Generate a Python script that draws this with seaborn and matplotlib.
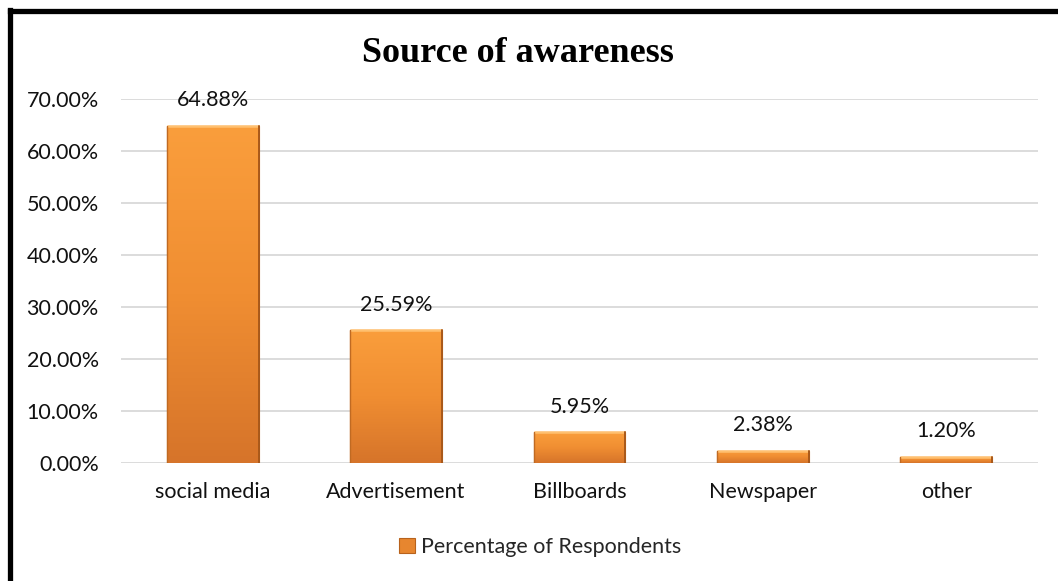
import numpy as np
import pandas as pd
import matplotlib
matplotlib.use("Agg")
import matplotlib.pyplot as plt
from matplotlib.colors import LinearSegmentedColormap
from matplotlib.patches import Patch
from matplotlib.lines import Line2D
import seaborn as sns

categories = ["social media", "Advertisement", "Billboards", "Newspaper", "other"]
percentages = [64.88, 25.59, 5.95, 2.38, 1.20]
series_name = "Percentage of Respondents"
title = "Source of awareness"
y_ticks = [0, 10, 20, 30, 40, 50, 60, 70]

sns.set_theme(style="white")
plt.rcParams["font.family"] = ["Lato", "DejaVu Sans"]

FS = 15.5

df = pd.DataFrame({"category": categories, "value": percentages})

fig = plt.figure(figsize=(10.58, 5.81), dpi=100)
ax = fig.add_axes([121 / 1058, 1 - 463 / 581, (1038 - 121) / 1058, (463 - 99) / 581])

sns.barplot(data=df, x="category", y="value", color="#F29A38", width=0.5,
            ax=ax, zorder=3, edgecolor="#B8621C", linewidth=0.8)

ax.set_ylim(0, 70)
ax.set_xlim(-0.5, len(categories) - 0.5)
ax.set_yticks(y_ticks)
ax.set_yticklabels([f"{t:.2f}%" for t in y_ticks], fontsize=FS, color="#111111")
ax.tick_params(axis="y", length=0, pad=16)
ax.tick_params(axis="x", length=0, pad=14, labelsize=FS, labelcolor="#111111")
ax.set_xlabel("")
ax.set_ylabel("")
ax.grid(axis="y", color="#D9D9D9", linewidth=1.3, zorder=0)
for s in ax.spines.values():
    s.set_visible(False)

# vertical orange gradient inside each bar
grad_cmap = LinearSegmentedColormap.from_list("bar", ["#D6742A", "#F08E32", "#FA9E3C"])
gradient = np.linspace(0, 1, 256).reshape(-1, 1)
for patch in ax.patches:
    x0, y0 = patch.get_x(), patch.get_y()
    w, h = patch.get_width(), patch.get_height()
    im = ax.imshow(gradient, cmap=grad_cmap, origin="lower", aspect="auto",
                   extent=(x0, x0 + w, y0, y0 + h), zorder=3.5)
    im.set_clip_path(patch)
    # bevel highlight on top edge and shade on the sides
    ax.add_line(Line2D([x0, x0 + w], [y0 + h, y0 + h], color="#FFC070",
                       linewidth=1.8, zorder=4, solid_capstyle="butt"))
    ax.add_line(Line2D([x0 + w, x0 + w], [y0, y0 + h], color="#A9591A",
                       linewidth=1.4, zorder=4))
    ax.add_line(Line2D([x0, x0], [y0, y0 + h], color="#C06A22",
                       linewidth=1.0, zorder=4))

for i, v in enumerate(percentages):
    ax.annotate(f"{v:.2f}%", xy=(i, v), xytext=(0, 11), textcoords="offset points",
                ha="center", va="bottom", fontsize=FS, color="#111111")

fig.text(518 / 1058, 1 - 53 / 581, title, ha="center", va="center",
         fontsize=26, fontweight="bold", family="Liberation Serif", color="#000000")

handle = Patch(facecolor="#E7862F", edgecolor="#B8621C", linewidth=0.8)
fig.legend([handle], [series_name], loc="center", bbox_to_anchor=(540 / 1058, 1 - 547 / 581),
           frameon=False, fontsize=FS, handlelength=0.75, handleheight=0.75,
           handletextpad=0.3)

# frame lines along the left and top edges of the chart area
fig.add_artist(Line2D([9.5 / 1058, 9.5 / 1058], [0, 1 - 10 / 581], color="black",
                      linewidth=3.8, transform=fig.transFigure, solid_capstyle="projecting"))
fig.add_artist(Line2D([9.5 / 1058, 1], [1 - 10.5 / 581, 1 - 10.5 / 581], color="black",
                      linewidth=3.8, transform=fig.transFigure, solid_capstyle="projecting"))

fig.savefig("out.png", dpi=100, facecolor="white")
